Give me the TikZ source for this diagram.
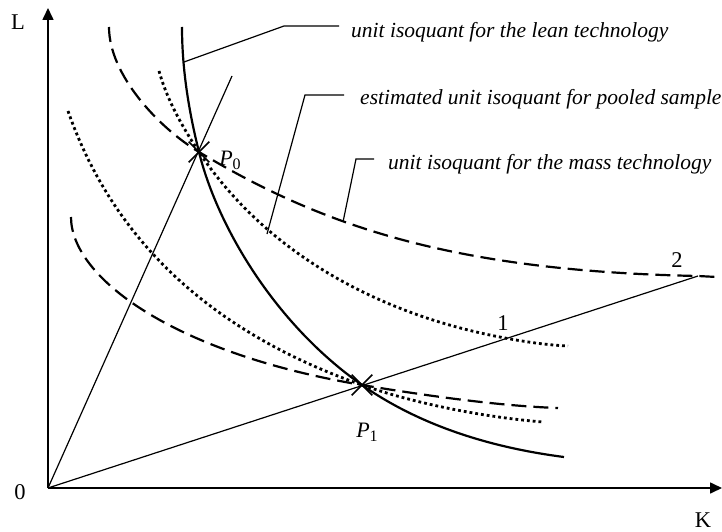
\documentclass[tikz,border=0pt]{standalone}
\usepackage{fontspec}
\setmainfont{Liberation Serif}
\usetikzlibrary{arrows.meta,shapes.misc}
\newcommand{\subz}[1]{\raisebox{-0.4ex}{\fontsize{16}{16}\selectfont #1}}
\begin{document}
\begin{tikzpicture}[x=1pt,y=-1pt,
  lean/.style={line width=2.2pt},
  mass/.style={line width=2.2pt, dash pattern=on 15pt off 7pt},
  pooled/.style={line width=2.8pt, dash pattern=on 2.8pt off 3pt},
  ray/.style={line width=1.2pt},
  axis/.style={line width=1.6pt, -{Triangle[length=12pt,width=11pt]}},
  leader/.style={line width=1.2pt},
  lbl/.style={font=\fontsize{21.5}{25}\selectfont\itshape, anchor=west, inner sep=0pt},
  num/.style={font=\fontsize{22.5}{26}\selectfont, inner sep=0pt},
  xmark/.style={draw, cross out, minimum size=19pt, line width=1.7pt, inner sep=0pt}]
\useasboundingbox (0,0) rectangle (722,532);
% key points
\coordinate (O) at (48,488);
\coordinate (Ytip) at (48,8);
\coordinate (Xtip) at (722,488);
\coordinate (P0) at (199,152);
\coordinate (P1) at (362,385);
\coordinate (R0) at (232,76);
\coordinate (R1) at (698,276);
% axes
\draw[axis] (O) -- (Ytip);
\draw[axis] (O) -- (Xtip);
\node[num] (L) at (18,22) {L};
\node[num] (K) at (703,520) {K};
\node[num] (zero) at (20,492) {0};
% rays
\draw[ray] (O) -- (R0);
\draw[ray] (O) -- (R1);
% lean isoquant
\draw[lean] (182,27) .. controls (182,70) and (189,112) .. (P0)
  .. controls (216,222) and (272,322) .. (P1)
  .. controls (422,427) and (494,448) .. (564,457);
% mass isoquants
\draw[mass] (109,27) .. controls (109,75) and (159,128) .. (P0)
  .. controls (319,224) and (448,271) .. (R1) -- (717,277);
\draw[mass] (71,217) .. controls (71,277) and (172,353) .. (P1)
  .. controls (422,395) and (498,406) .. (558,408);
% pooled isoquants
\draw[pooled] (159,71) .. controls (167,100) and (183,128) .. (P0)
  .. controls (269,257) and (385,316) .. (505,338)
  .. controls (526,342) and (547,345) .. (568,346);
\draw[pooled] (68,111) .. controls (113.5,241) and (212,332.5) .. (P1)
  .. controls (422,406) and (493,418) .. (543,422);
% crosses
\node[xmark] (m0) at (P0) {};
\node[xmark] (m1) at (P1) {};
\node[num, font=\fontsize{22}{26}\selectfont\itshape] (p0lbl) at (230,160) {P\subz{\upshape 0}};
\node[num, font=\fontsize{22}{26}\selectfont\itshape] (p1lbl) at (367,432) {P\subz{\upshape 1}};
\node[num] (one) at (503,323) {1};
\node[num] (two) at (677,260) {2};
% labels and leaders
\node[lbl] (tlean) at (351,32) {unit isoquant for the lean technology};
\node[lbl] (tpool) at (360,99) {estimated unit isoquant for pooled sample};
\node[lbl] (tmass) at (388,164) {unit isoquant for the mass technology};
\coordinate (a1) at (184,62);
\coordinate (b1) at (284,26);
\coordinate (c1) at (339,26);
\coordinate (a2) at (267,234);
\coordinate (b2) at (305,95);
\coordinate (c2) at (344,95);
\coordinate (a3) at (343,222);
\coordinate (b3) at (356,159);
\coordinate (c3) at (374,159);
\draw[leader] (a1) -- (b1) -- (c1);
\draw[leader] (a2) -- (b2) -- (c2);
\draw[leader] (a3) -- (b3) -- (c3);
\end{tikzpicture}
\end{document}
